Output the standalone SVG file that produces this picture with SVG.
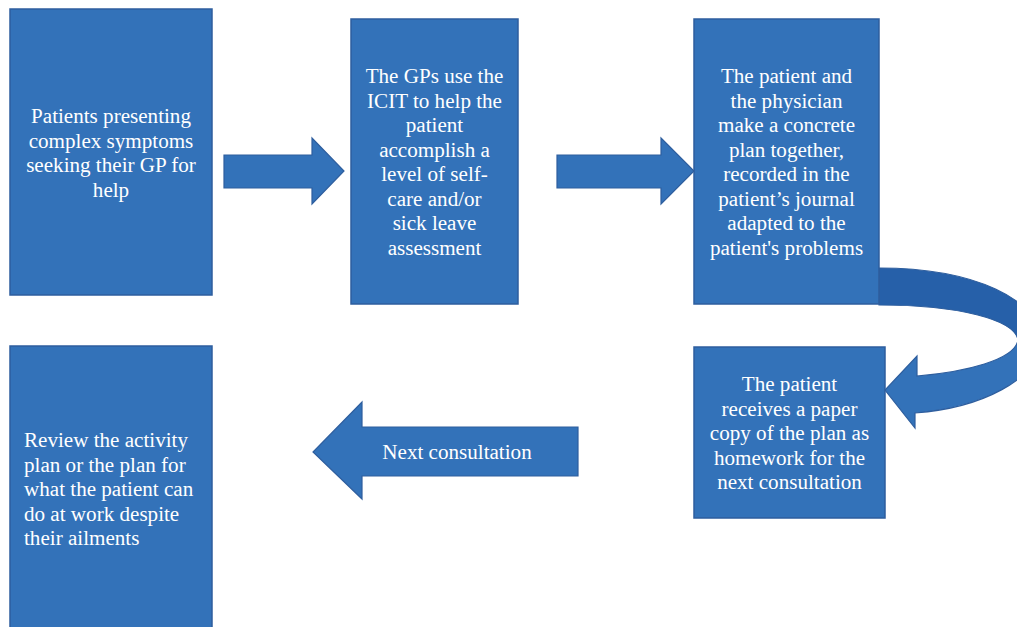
<svg xmlns="http://www.w3.org/2000/svg" width="1017" height="627" viewBox="0 0 1017 627">
<style>
.box{fill:#3372B9;stroke:#2E5E9E;stroke-width:1.5}
.arr{fill:#3372B9;stroke:#2E5E9E;stroke-width:1.2}
.dark{fill:#2660A9;stroke:#2E5E9E;stroke-width:1.2}
text{font-family:"Liberation Serif","Times New Roman",serif;font-size:21.1px;fill:#ffffff}
.c{text-anchor:middle}
</style>
<rect width="1017" height="627" fill="#ffffff"/>
<g id="connectors">
<path class="arr" d="M224 155 L312 155 L312 138 L344 171 L312 204 L312 188 L224 188 Z"/>
<path class="arr" d="M557 155 L661 155 L661 138 L694 171 L661 204 L661 188 L557 188 Z"/>
<path class="dark" d="M879 268 C975 268 1040 300 1040 340 L1018 340 C1015 320 960 305 879 305 Z"/>
<path class="arr" d="M1040 340 C1040 380 980 408 915 413 L915 428 L885 390 L917 356 L917 376 C965 372 1015 360 1018 340 Z"/>
<g id="next">
<path class="arr" d="M578 427 L362 427 L362 402 L313 452 L362 499 L362 476 L578 476 Z"/>
<text class="c" x="457" y="459">Next consultation</text>
</g>
</g>
<g id="node1">
<rect class="box" x="10" y="9" width="202" height="286"/>
<text class="c" x="111"><tspan x="111" y="123">Patients presenting</tspan><tspan x="111" y="147.5">complex symptoms</tspan><tspan x="111" y="172">seeking their GP for</tspan><tspan x="111" y="196.5">help</tspan></text>
</g>
<g id="node2">
<rect class="box" x="351" y="19" width="167" height="285"/>
<text class="c"><tspan x="434.5" y="83">The GPs use the</tspan><tspan x="434.5" y="107.5">ICIT to help the</tspan><tspan x="434.5" y="132">patient</tspan><tspan x="434.5" y="156.5">accomplish a</tspan><tspan x="434.5" y="181">level of self-</tspan><tspan x="434.5" y="205.5">care and/or</tspan><tspan x="434.5" y="230">sick leave</tspan><tspan x="434.5" y="254.5">assessment</tspan></text>
</g>
<g id="node3">
<rect class="box" x="694" y="19" width="185" height="285"/>
<text class="c"><tspan x="786.5" y="83">The patient and</tspan><tspan x="786.5" y="107.5">the physician</tspan><tspan x="786.5" y="132">make a concrete</tspan><tspan x="786.5" y="156.5">plan together,</tspan><tspan x="786.5" y="181">recorded in the</tspan><tspan x="786.5" y="205.5">patient’s journal</tspan><tspan x="786.5" y="230">adapted to the</tspan><tspan x="786.5" y="254.5">patient's problems</tspan></text>
</g>
<g id="node4">
<rect class="box" x="694" y="347" width="191" height="171"/>
<text class="c"><tspan x="789.5" y="391">The patient</tspan><tspan x="789.5" y="415.5">receives a paper</tspan><tspan x="789.5" y="440">copy of the plan as</tspan><tspan x="789.5" y="464.5">homework for the</tspan><tspan x="789.5" y="489">next consultation</tspan></text>
</g>
<g id="node5">
<rect class="box" x="10" y="346" width="202" height="290"/>
<text><tspan x="24" y="447">Review the activity</tspan><tspan x="24" y="471.5">plan or the plan for</tspan><tspan x="24" y="496">what the patient can</tspan><tspan x="24" y="520.5">do at work despite</tspan><tspan x="24" y="545">their ailments</tspan></text>
</g>
</svg>
